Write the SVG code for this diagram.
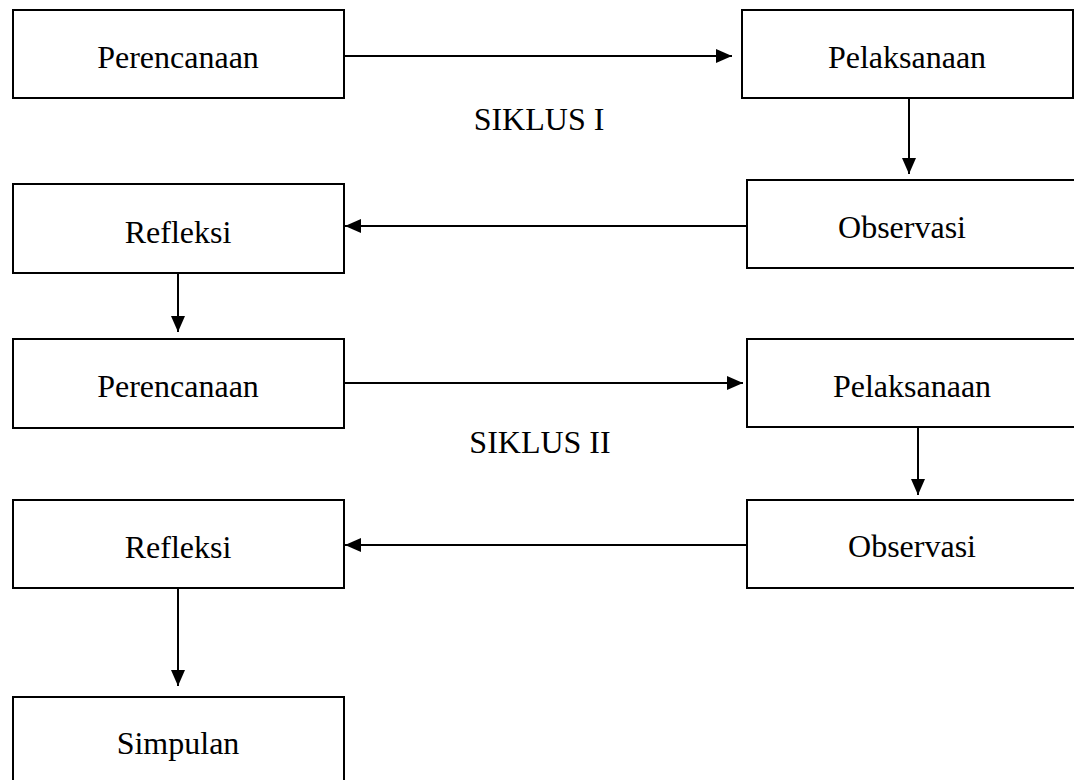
<svg xmlns="http://www.w3.org/2000/svg" width="1074" height="780" viewBox="0 0 1074 780">
<style>
.box{fill:#fff;stroke:#000;stroke-width:2}
.lbl{font-family:"Liberation Serif","Times New Roman",serif;font-size:32px;fill:#000;text-anchor:middle}
.conn{stroke:#000;stroke-width:2;fill:none;marker-end:url(#ah)}
</style>
<defs>
<marker id="ah" markerUnits="userSpaceOnUse" markerWidth="16" markerHeight="14" refX="16" refY="7" orient="auto">
<polygon points="0,0 16,7 0,14" fill="#000"/>
</marker>
</defs>
<rect width="1074" height="780" fill="#fff"/>
<g id="connectors">
<line class="conn" x1="344" y1="56" x2="732" y2="56"/>
<line class="conn" x1="909" y1="98" x2="909" y2="174"/>
<line class="conn" x1="747" y1="226" x2="345" y2="226"/>
<line class="conn" x1="178" y1="273" x2="178" y2="332"/>
<line class="conn" x1="344" y1="383" x2="743" y2="383"/>
<line class="conn" x1="918" y1="427" x2="918" y2="495"/>
<line class="conn" x1="747" y1="545" x2="345" y2="545"/>
<line class="conn" x1="178" y1="588" x2="178" y2="686"/>
</g>
<g id="perencanaan1"><rect class="box" x="13" y="10" width="331" height="88"/><text class="lbl" x="178" y="68">Perencanaan</text></g>
<g id="pelaksanaan1"><rect class="box" x="742" y="10" width="331" height="88"/><text class="lbl" x="907" y="68">Pelaksanaan</text></g>
<g id="siklus1"><text class="lbl" x="539" y="130">SIKLUS I</text></g>
<g id="observasi1"><rect class="box" x="747" y="180" width="340" height="88"/><text class="lbl" x="902" y="238">Observasi</text></g>
<g id="refleksi1"><rect class="box" x="13" y="184" width="331" height="89"/><text class="lbl" x="178" y="243">Refleksi</text></g>
<g id="perencanaan2"><rect class="box" x="13" y="339" width="331" height="89"/><text class="lbl" x="178" y="397">Perencanaan</text></g>
<g id="pelaksanaan2"><rect class="box" x="747" y="339" width="340" height="88"/><text class="lbl" x="912" y="397">Pelaksanaan</text></g>
<g id="siklus2"><text class="lbl" x="540" y="453">SIKLUS II</text></g>
<g id="observasi2"><rect class="box" x="747" y="500" width="340" height="88"/><text class="lbl" x="912" y="557">Observasi</text></g>
<g id="refleksi2"><rect class="box" x="13" y="500" width="331" height="88"/><text class="lbl" x="178" y="558">Refleksi</text></g>
<g id="simpulan"><rect class="box" x="13" y="697" width="331" height="100"/><text class="lbl" x="178" y="754">Simpulan</text></g>
</svg>
